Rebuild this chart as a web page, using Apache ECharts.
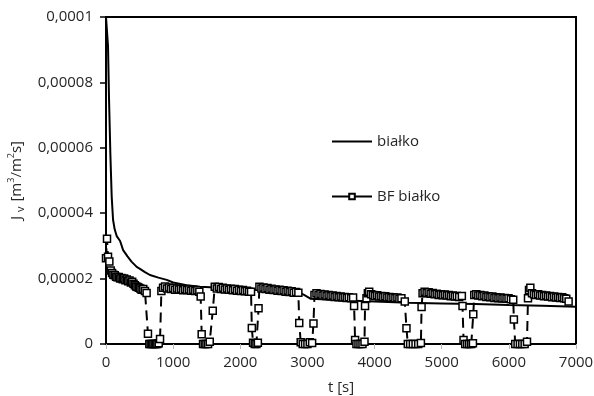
<!DOCTYPE html>
<html>
<head>
<meta charset="utf-8">
<script src="https://cdn.jsdelivr.net/npm/echarts@6/dist/echarts.min.js"></script>
<style>
  html, body { margin: 0; background: #fff; }
  #chart { width: 594px; height: 396px; }
</style>
</head>
<body>
<div id="chart"></div>
<script>
// [t in s, Jv in 1e-5 m3/(m2 s)]
const bialko = [
  [0, 10], [20, 10], [30, 9.1], [45, 7.5], [65, 5.8], [85, 4.5], [105, 3.8], [130, 3.5],
  [160, 3.3], [210, 3.15], [255, 2.87], [320, 2.68], [380, 2.52], [457, 2.36], [506, 2.3],
  [580, 2.2], [655, 2.11], [780, 2.03], [905, 1.96], [1000, 1.88], [1200, 1.8], [1400, 1.75],
  [1700, 1.72], [2000, 1.68], [2400, 1.65], [2850, 1.6], [2950, 1.5], [3050, 1.38],
  [3600, 1.33], [4000, 1.3], [4500, 1.26], [5000, 1.24], [5500, 1.22], [6000, 1.19],
  [6500, 1.17], [7000, 1.14]
];

const bfBialko = [
  // cycle 1
  [0, 2.62], [15, 3.22], [30, 2.67], [50, 2.52], [70, 2.25], [90, 2.17], [110, 2.12], [130, 2.1],
  [150, 2.06], [170, 2.04], [190, 2.05], [210, 2.0], [230, 2.02], [250, 1.98], [270, 2.0],
  [290, 1.95], [310, 1.97], [330, 1.92], [350, 1.94], [370, 1.88], [390, 1.9], [410, 1.84],
  [430, 1.8], [450, 1.76], [470, 1.74], [490, 1.72], [510, 1.7], [530, 1.66], [555, 1.68],
  [580, 1.62], [605, 1.56],
  [625, 0.31], [645, 0], [665, 0], [685, 0], [705, 0], [725, 0], [745, 0], [765, 0], [785, 0.02],
  [805, 0.15],
  // cycle 2
  [825, 1.62], [850, 1.72], [880, 1.76], [910, 1.7], [940, 1.73], [970, 1.68], [1000, 1.71],
  [1030, 1.66], [1060, 1.7], [1090, 1.67], [1120, 1.69], [1150, 1.64], [1180, 1.68], [1210, 1.65],
  [1240, 1.67], [1270, 1.63], [1300, 1.66], [1330, 1.62], [1360, 1.64], [1390, 1.6], [1410, 1.45],
  [1425, 0.3], [1445, 0], [1470, 0], [1495, 0], [1520, 0], [1545, 0.07], [1590, 1.02],
  // cycle 3
  [1620, 1.75], [1650, 1.7], [1680, 1.74], [1710, 1.68], [1740, 1.72], [1770, 1.67], [1800, 1.7],
  [1830, 1.66], [1860, 1.69], [1890, 1.64], [1920, 1.68], [1950, 1.63], [1980, 1.66], [2010, 1.62],
  [2040, 1.65], [2070, 1.61], [2100, 1.63], [2130, 1.6], [2160, 1.6],
  [2172, 0.49], [2190, 0.04], [2215, 0], [2240, 0], [2262, 0.04], [2272, 1.09],
  // cycle 4
  [2285, 1.75], [2315, 1.7], [2345, 1.73], [2375, 1.68], [2405, 1.71], [2435, 1.66], [2465, 1.69],
  [2495, 1.65], [2525, 1.67], [2555, 1.63], [2585, 1.66], [2615, 1.62], [2645, 1.64], [2675, 1.6],
  [2705, 1.63], [2735, 1.59], [2765, 1.61], [2795, 1.57], [2830, 1.59], [2865, 1.57],
  [2878, 0.64], [2900, 0.05], [2930, 0], [2965, 0], [3000, 0], [3035, 0.05], [3070, 0.03], [3090, 0.63],
  // cycle 5
  [3105, 1.5], [3135, 1.55], [3165, 1.5], [3195, 1.53], [3225, 1.48], [3255, 1.51], [3285, 1.47],
  [3315, 1.5], [3345, 1.46], [3375, 1.48], [3405, 1.44], [3435, 1.47], [3465, 1.43], [3495, 1.45],
  [3525, 1.42], [3555, 1.44], [3585, 1.41], [3615, 1.43], [3650, 1.4], [3680, 1.42], [3695, 1.16],
  [3710, 0.12], [3730, 0], [3760, 0], [3790, 0], [3820, 0], [3850, 0.07], [3858, 1.16], [3880, 1.4],
  // cycle 6
  [3900, 1.55], [3920, 1.6], [3950, 1.52], [3980, 1.5], [4010, 1.47], [4040, 1.49], [4070, 1.45],
  [4100, 1.47], [4130, 1.44], [4160, 1.46], [4190, 1.42], [4220, 1.44], [4250, 1.41], [4280, 1.43],
  [4310, 1.4], [4340, 1.42], [4370, 1.38], [4400, 1.4], [4450, 1.3],
  [4475, 0.48], [4495, 0], [4530, 0], [4570, 0], [4610, 0], [4650, 0], [4690, 0.03], [4700, 1.13],
  // cycle 7
  [4715, 1.55], [4745, 1.6], [4775, 1.56], [4805, 1.58], [4835, 1.54], [4865, 1.56], [4895, 1.52],
  [4925, 1.54], [4955, 1.5], [4985, 1.52], [5015, 1.49], [5045, 1.51], [5075, 1.48], [5105, 1.5],
  [5135, 1.46], [5165, 1.48], [5195, 1.45], [5225, 1.47], [5260, 1.44], [5300, 1.47], [5310, 1.16],
  [5325, 0.12], [5350, 0], [5380, 0], [5410, 0], [5440, 0], [5465, 0.02], [5470, 0.91],
  // cycle 8
  [5485, 1.5], [5515, 1.52], [5545, 1.48], [5575, 1.5], [5605, 1.46], [5635, 1.48], [5665, 1.44],
  [5695, 1.46], [5725, 1.43], [5755, 1.45], [5785, 1.41], [5815, 1.43], [5845, 1.4], [5875, 1.42],
  [5905, 1.39], [5935, 1.41], [5965, 1.38], [5995, 1.4], [6030, 1.37], [6065, 1.35],
  [6075, 0.75], [6095, 0], [6130, 0], [6165, 0], [6200, 0], [6235, 0], [6270, 0.07], [6285, 1.4],
  // cycle 9
  [6300, 1.65], [6320, 1.72], [6345, 1.55], [6375, 1.52], [6405, 1.5], [6435, 1.52], [6465, 1.48],
  [6495, 1.5], [6525, 1.46], [6555, 1.48], [6585, 1.45], [6615, 1.47], [6645, 1.43], [6675, 1.45],
  [6705, 1.42], [6735, 1.44], [6765, 1.41], [6795, 1.43], [6825, 1.4], [6855, 1.38], [6890, 1.3]
];

const unit = 1e-5;
const font = 'Open Sans';
const textColor = '#262626';

const chart = echarts.init(document.getElementById('chart'));

const option = {
  backgroundColor: '#fff',
  animation: false,
  grid: {
    left: 106, right: 18, top: 17, bottom: 52,
    outerBoundsMode: 'none',
    show: true, borderColor: '#000', borderWidth: 2
  },
  legend: {
    orient: 'vertical',
    left: 331,
    top: 134,
    padding: 0,
    itemWidth: 40,
    itemHeight: 7,
    itemGap: 40,
    textStyle: { fontSize: 15, color: textColor, fontFamily: font },
    data: [
      { name: 'białko', itemStyle: { opacity: 0 } },
      { name: 'BF białko', lineStyle: { type: 'solid' } }
    ]
  },
  xAxis: {
    type: 'value',
    min: 0, max: 7000, interval: 1000,
    name: 't [s]',
    nameLocation: 'middle',
    nameGap: 36,
    nameTextStyle: { fontSize: 15, color: textColor, fontFamily: font },
    axisLine: { onZero: false, lineStyle: { color: '#000', width: 2 } },
    axisTick: { show: true, length: 5, lineStyle: { color: '#bbb' } },
    axisLabel: { margin: 11, fontSize: 15, color: textColor, fontFamily: font, formatter: v => String(v) },
    splitLine: { show: false }
  },
  yAxis: {
    type: 'value',
    min: 0, max: 0.0001, interval: 0.00002,
    name: '{t|J}{sub|v}{t| [m}{sup|3}{t|/m}{sup|2}{t|s]}',
    nameLocation: 'middle',
    nameRotate: 90,
    nameGap: 74,
    nameTextStyle: {
      color: textColor,
      fontFamily: font,
      rich: {
        t: { fontSize: 15, color: textColor, fontFamily: font, lineHeight: 20, verticalAlign: 'middle' },
        sub: { fontSize: 11, color: textColor, fontFamily: font, lineHeight: 20, verticalAlign: 'bottom', padding: [0, 1, 0, 4] },
        sup: { fontSize: 9, color: textColor, fontFamily: font, lineHeight: 20, verticalAlign: 'top' }
      }
    },
    axisLine: { show: true, lineStyle: { color: '#000', width: 2 } },
    axisTick: { show: true, length: 6, lineStyle: { color: '#000', width: 1.5 } },
    axisLabel: {
      margin: 13, fontSize: 15, color: textColor, fontFamily: font,
      formatter: v => (v === 0 ? '0' : String(+v.toFixed(6)).replace('.', ','))
    },
    splitLine: { show: false }
  },
  series: [
    {
      name: 'białko',
      type: 'line',
      data: bialko.map(p => [p[0], p[1] * unit]),
      symbol: 'none',
      lineStyle: { color: '#000', width: 2 },
      itemStyle: { color: '#000' },
      z: 2
    },
    {
      name: 'BF białko',
      type: 'line',
      data: bfBialko.map(p => [p[0], p[1] * unit]),
      symbol: 'rect',
      symbolSize: 7,
      itemStyle: { color: '#fff', borderColor: '#000', borderWidth: 1.5 },
      lineStyle: { color: '#000', width: 2, type: [10, 6] },
      z: 3
    }
  ]
};

chart.setOption(option);
window.addEventListener('resize', chart.resize);
</script>
</body>
</html>
